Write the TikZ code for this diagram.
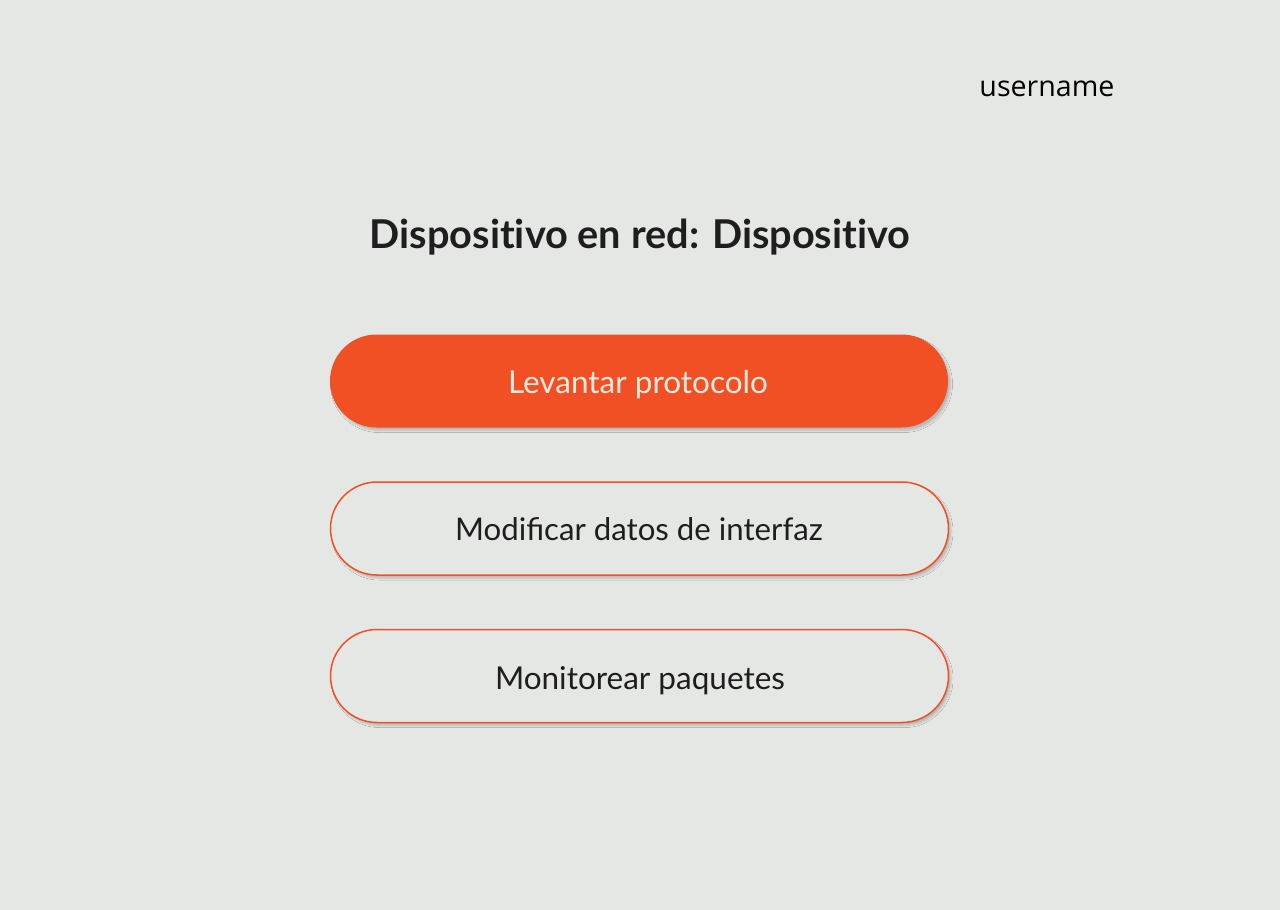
\documentclass[tikz,border=0pt]{standalone}
\usepackage{fontspec}
\setmainfont{Lato}
\newfontfamily\titlefont[RawFeature={-liga;-calt;-clig}]{Lato}
\newfontfamily\userfont{Open Sans}
\usetikzlibrary{shadows.blur}
\newcommand{\noti}{t\kern0pt i}
\definecolor{bgcol}{HTML}{E5E7E4}
\definecolor{orangecol}{HTML}{F15025}
\definecolor{darktext}{HTML}{1E1E1E}
\definecolor{lighttext}{HTML}{F7E9DF}
\tikzset{
  btnbase/.style={rectangle, rounded corners=46.5pt, minimum width=618pt, minimum height=93pt, inner sep=0pt,
    blur shadow={shadow xshift=2.5pt, shadow yshift=-3pt, shadow blur radius=2pt, shadow blur steps=6, shadow opacity=20}},
  btnfilled/.style={btnbase, fill=orangecol},
  btnoutline/.style={btnbase, fill=bgcol, draw=orangecol, line width=1.5pt},
  titletext/.style={text=darktext, font=\titlefont\bfseries\fontsize{39.7}{46}\selectfont, inner sep=0pt},
  usertext/.style={text=black, font=\userfont\fontsize{28.6}{34}\selectfont, inner sep=0pt},
  btnlabel/.style={inner sep=0pt, anchor=base}
}
\begin{document}
\begin{tikzpicture}[x=1pt,y=-1pt]
\fill[bgcol] (0,0) rectangle (1280,910);
\useasboundingbox (0,0) rectangle (1280,910);
\node[usertext, anchor=base] (user) at (1047,96) {username};
\node[titletext, anchor=base] (title) at (640,248) {Disposi\noti vo en red: Disposi\noti vo};
\node[btnfilled] (b1) at (639,381) {};
\node[btnoutline] (b2) at (639.5,528.5) {};
\node[btnoutline] (b3) at (639.5,676) {};
\node[btnlabel, text=lighttext, font=\fontsize{31.5}{38}\selectfont] (t1) at (638,393) {Levantar protocolo};
\node[btnlabel, text=darktext, font=\fontsize{31.2}{38}\selectfont] (t2) at (639,540) {Modificar datos de interfaz};
\node[btnlabel, text=darktext, font=\fontsize{31.5}{38}\selectfont] (t3) at (640,689) {Monitorear paquetes};
\end{tikzpicture}
\end{document}
